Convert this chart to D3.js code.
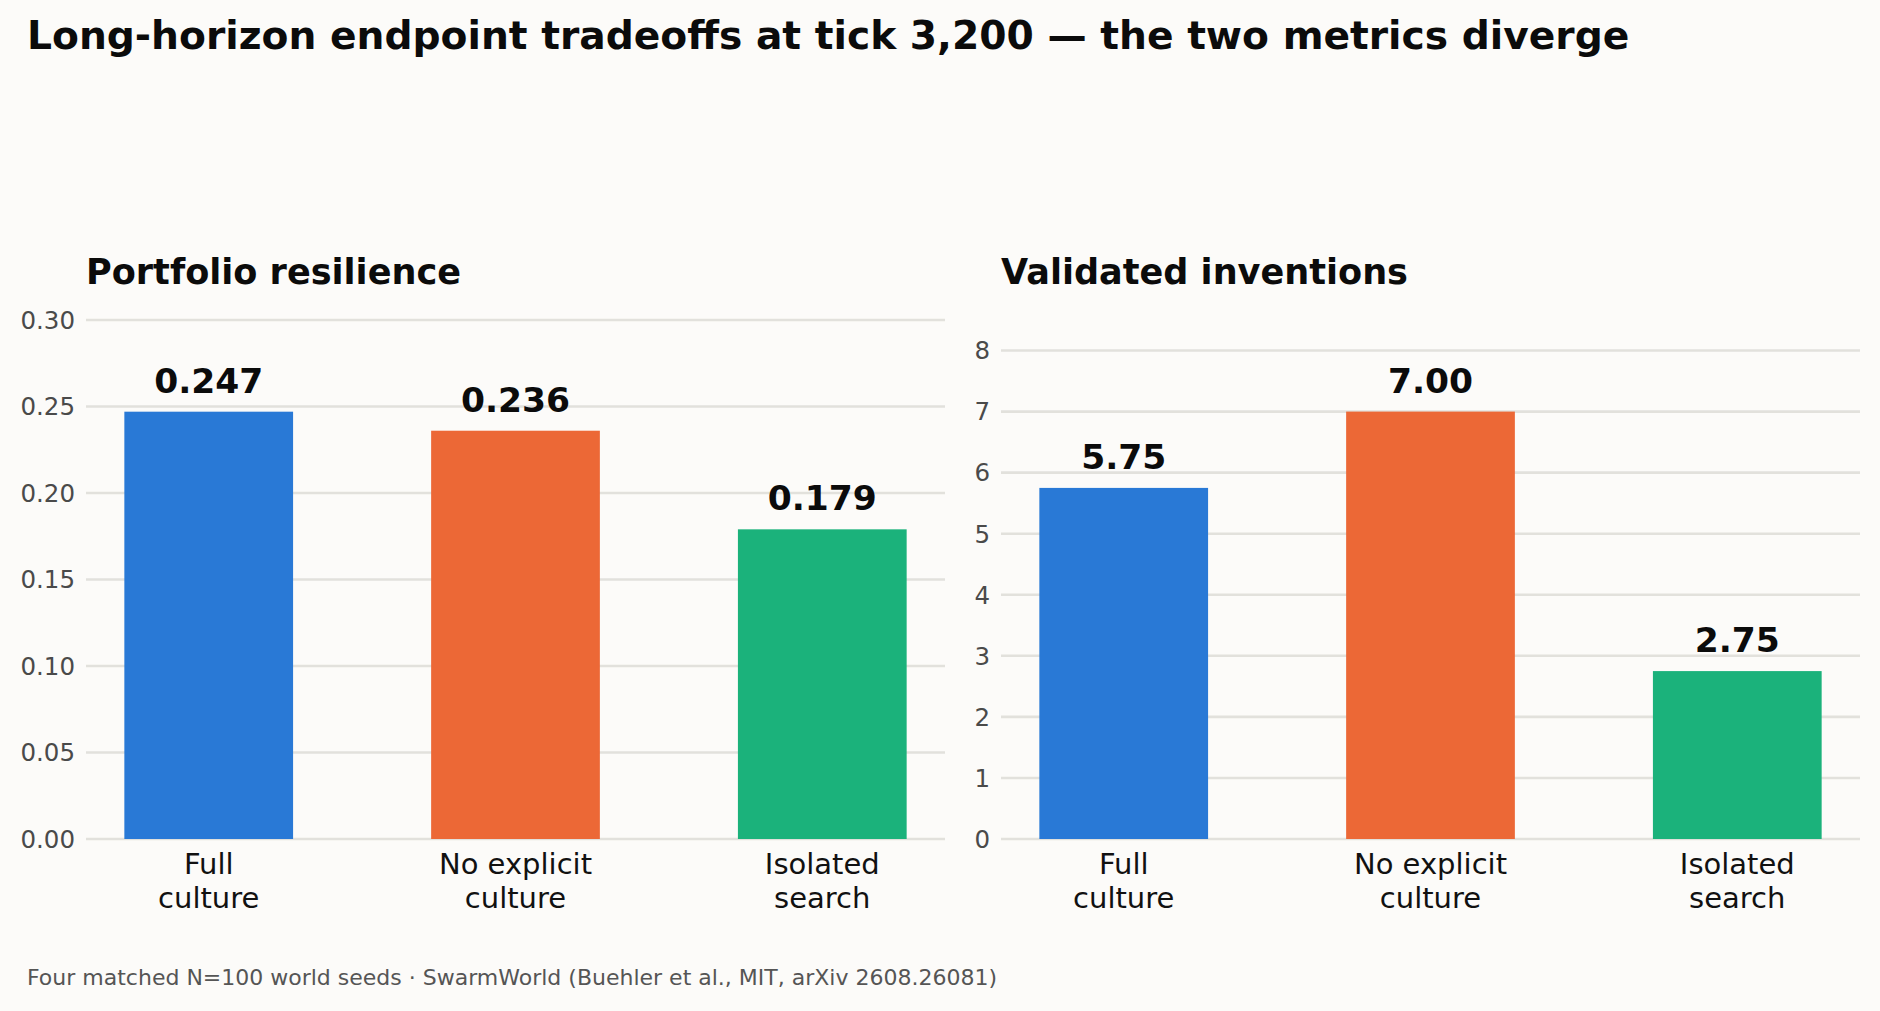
<!DOCTYPE html>
<html>
<head>
<meta charset="utf-8">
<script src="https://cdn.jsdelivr.net/npm/d3@7"></script>
<style>
  html, body { margin: 0; padding: 0; background: #fcfbf9; }
  svg { display: block; font-family: "DejaVu Sans", sans-serif; }
</style>
</head>
<body>
<svg id="chart" width="1880" height="1011"></svg>
<script>
// ---- data ----
const categories = [["Full", "culture"], ["No explicit", "culture"], ["Isolated", "search"]];
const colors = ["#2979d6", "#ec6836", "#1bb27b"];
const resilienceValues = [0.247, 0.236, 0.179];
const resilienceTicks = [0, 0.05, 0.10, 0.15, 0.20, 0.25, 0.30];
const inventionValues = [5.75, 7.00, 2.75];
const inventionTicks = [0, 1, 2, 3, 4, 5, 6, 7, 8];

const titleText = "Long-horizon endpoint tradeoffs at tick 3,200 \u2014 the two metrics diverge";
const footerText = "Four matched N=100 world seeds \u00b7 SwarmWorld (Buehler et al., MIT, arXiv 2608.26081)";

const svg = d3.select("#chart");
svg.append("rect").attr("width", 1880).attr("height", 1011).attr("fill", "#fcfbf9");

svg.append("text").attr("x", 27).attr("y", 49)
  .attr("font-size", 39.2).attr("font-weight", "bold").attr("fill", "#0b0b0b")
  .text(titleText);

svg.append("text").attr("x", 27).attr("y", 985)
  .attr("font-size", 22).attr("fill", "#555")
  .text(footerText);

function panel(opts) {
  const g = svg.append("g");
  const x = d3.scaleLinear().domain([-0.4, 2.4]).range([opts.x0, opts.x1]);
  const y = d3.scaleLinear().domain([0, opts.ymax]).range([839, 320]);
  const barW = 0.55;

  g.append("text").attr("x", opts.x0).attr("y", 284)
    .attr("font-size", 35.1).attr("font-weight", "bold").attr("fill", "#0b0b0b")
    .text(opts.title);

  // gridlines
  g.selectAll("line.grid").data(opts.ticks).enter().append("line")
    .attr("class", "grid")
    .attr("x1", opts.x0).attr("x2", opts.x1)
    .attr("y1", d => y(d)).attr("y2", d => y(d))
    .attr("stroke", "#e2e1dc").attr("stroke-width", 2.6);

  // y tick labels
  g.selectAll("text.tick").data(opts.ticks).enter().append("text")
    .attr("class", "tick")
    .attr("x", opts.x0 - 11).attr("y", d => y(d)).attr("dy", "0.36em")
    .attr("text-anchor", "end").attr("font-size", 24.5).attr("fill", "#4a4a4a")
    .text(d => opts.fmtTick(d));

  // bars
  g.selectAll("rect.bar").data(opts.values).enter().append("rect")
    .attr("class", "bar")
    .attr("x", (d, i) => x(i - barW / 2))
    .attr("width", (d, i) => x(i + barW / 2) - x(i - barW / 2))
    .attr("y", d => y(d)).attr("height", d => y(0) - y(d))
    .attr("fill", (d, i) => colors[i]);

  // value labels
  g.selectAll("text.val").data(opts.values).enter().append("text")
    .attr("class", "val")
    .attr("x", (d, i) => x(i)).attr("y", d => y(d) - 19)
    .attr("text-anchor", "middle").attr("font-size", 34.5).attr("font-weight", "bold").attr("fill", "#0b0b0b")
    .text(d => opts.fmtVal(d));

  // category labels
  categories.forEach((lines, i) => {
    const t = g.append("text").attr("text-anchor", "middle")
      .attr("font-size", 29).attr("fill", "#111");
    lines.forEach((ln, j) => {
      t.append("tspan").attr("x", x(i)).attr("y", 874 + j * 34).text(ln);
    });
  });
}

panel({
  title: "Portfolio resilience", x0: 86, x1: 945, ymax: 0.30,
  ticks: resilienceTicks, values: resilienceValues,
  fmtTick: d3.format(".2f"), fmtVal: d3.format(".3f")
});
panel({
  title: "Validated inventions", x0: 1001, x1: 1860, ymax: 8.5,
  ticks: inventionTicks, values: inventionValues,
  fmtTick: d3.format("d"), fmtVal: d3.format(".2f")
});
</script>
</body>
</html>
